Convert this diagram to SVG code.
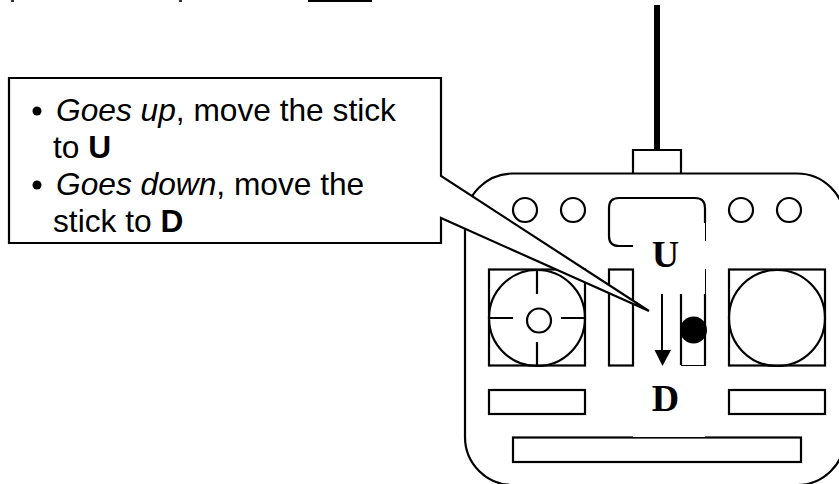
<svg xmlns="http://www.w3.org/2000/svg" width="839" height="484" viewBox="0 0 839 484">
<style>
.l{fill:none;stroke:#000;stroke-width:2.2}
.t{font-family:"Liberation Sans",Arial,sans-serif;font-size:31.7px;fill:#000}
.s{font-family:"Liberation Serif","Times New Roman",serif;font-size:38px;font-weight:bold;fill:#000;text-anchor:middle}
.m{fill:#fff;stroke:none}
</style>
<rect width="839" height="484" fill="#fff"/>
<g id="clipped-top"><rect x="308" y="0" width="64" height="2" fill="#000"/><rect x="179" y="0" width="3" height="2" fill="#333"/><rect x="11" y="0" width="3" height="2" fill="#333"/></g>
<g id="antenna"><line x1="657" y1="5" x2="657" y2="150" stroke="#000" stroke-width="6"/></g>
<g id="transmitter">
<path class="l" d="M633 173V150H681V173"/>
<path class="l" d="M513 173.500H797A48 48 0 0 1 845 221.500V437A48 48 0 0 1 797 485H513A48 48 0 0 1 465 437V221.500A48 48 0 0 1 513 173.500Z"/>
<circle class="l" cx="525" cy="210" r="12"/><circle class="l" cx="573" cy="210" r="12"/>
<circle class="l" cx="741" cy="210" r="12"/><circle class="l" cx="789" cy="210" r="12"/>
<path class="l" d="M633 246H619Q609 246 609 236V208Q609 198 619 198H695Q705 198 705 208V223"/>
<path d="M705.500 223V241M705.500 269V294" stroke="#000" stroke-width="1" fill="none"/>
<rect class="l" x="489" y="269.500" width="96" height="96"/>
<circle class="l" cx="537" cy="318" r="48"/>
<circle class="l" cx="539" cy="320.500" r="12"/>
<path class="l" d="M537 270V294M537 342V365M489 318H513M561 318H585"/>
<rect class="l" x="609" y="269.500" width="24" height="96"/>
<path class="l" d="M681 294V365M705 294V365"/>
<path d="M681 365.500H706" stroke="#000" stroke-width="1" fill="none"/>
<circle cx="693.500" cy="330" r="13.500" fill="#000"/>
<rect class="l" x="729" y="269.500" width="96" height="96"/>
<circle class="l" cx="777" cy="318" r="48"/>
<rect class="l" x="489" y="390" width="96" height="24"/>
<rect class="l" x="729" y="390" width="96" height="24"/>
<rect class="l" x="513" y="437.500" width="288" height="24.500"/>
<rect class="m" x="633" y="436" width="72" height="1"/>
<text class="s" x="665.500" y="267">U</text>
<text class="s" x="665.500" y="411">D</text>
</g>
<g id="connectors">
<line x1="662" y1="294" x2="662" y2="352" stroke="#000" stroke-width="2"/>
<path d="M654.500 350H671L662.500 366Z" fill="#000"/>
</g>
<g id="callout">
<path d="M9 78H441V176L649 311L441 218V243H9Z" fill="#fff" stroke="#000" stroke-width="2.200"/>
<circle cx="37" cy="111" r="4.500" fill="#000"/>
<circle cx="37" cy="185" r="4.500" fill="#000"/>
<text class="t" x="56" y="120.500"><tspan font-style="italic">Goes up</tspan>, move the stick</text>
<text class="t" x="53" y="157.500">to <tspan font-weight="bold">U</tspan></text>
<text class="t" x="56" y="194.500"><tspan font-style="italic">Goes down</tspan>, move the</text>
<text class="t" x="53" y="231.500">stick to <tspan font-weight="bold">D</tspan></text>
</g>
</svg>
